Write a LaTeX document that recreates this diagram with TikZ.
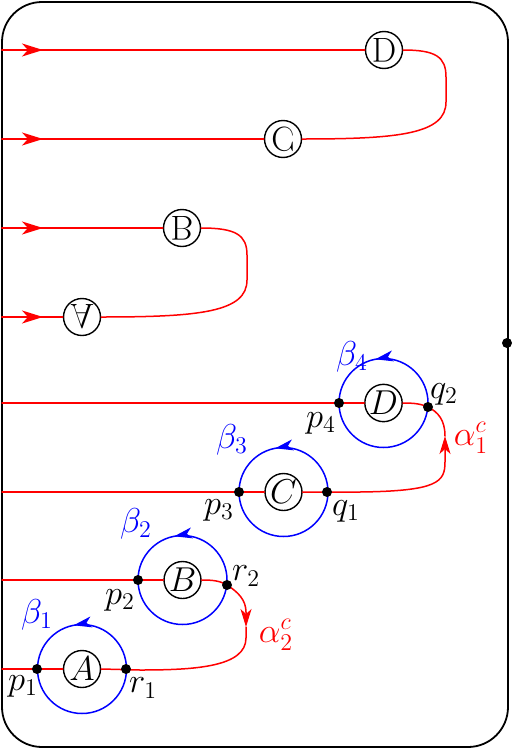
\documentclass[tikz,border=0pt]{standalone}
\usetikzlibrary{arrows.meta,decorations.markings}
\begin{document}
\begin{tikzpicture}[x=0.5pt,y=-0.5pt,line join=round,line cap=round,font=\LARGE,
	>={Stealth[length=9pt,width=5.5pt,inset=2.5pt]},
	letter/.style={circle,draw,fill=white,inner sep=0pt,minimum size=18.5pt,line width=0.7pt},
	redline/.style={red,line width=0.75pt},
	betaloop/.style={blue,line width=0.75pt,postaction={decorate},
		decoration={markings,mark=at position 0.72 with {\arrowreversed{>}}}}]
	\useasboundingbox (0,0) rectangle (511,750);
	\draw[line width=0.9pt,rounded corners=20pt] (2,2) rectangle (508,747);
	\foreach \y/\n in {50/1,139/2,228/3,317/4,403/5,492/6,580/7,669/8}
	\coordinate (l\n) at (2,\y);
	% upper half: the letters seen from behind
	\node[letter] (tD) at (384,50) {\scalebox{1}[-1]{D}};
	\node[letter] (tC) at (283,139) {\scalebox{1}[-1]{C}};
	\node[letter] (tB) at (182,228) {\scalebox{1}[-1]{B}};
	\node[letter] (tA) at (82,317) {\scalebox{1}[-1]{A}};
	\foreach \n/\t in {1/tD,2/tC,3/tB,4/tA}{
		\draw[redline] (l\n) -- (\t);
		\draw[redline,-{Stealth[length=10.5pt,width=6.5pt,inset=3pt]}] (l\n) -- ++(41,0);
	}
	\draw[redline] (tD.east) .. controls (436,50) and (446,57) .. (446,77) -- (446,102)
		.. controls (446,134) and (399,139) .. (tC.east);
	\draw[redline] (tB.east) .. controls (236,228) and (247,235) .. (247,255) -- (247,280)
		.. controls (247,312) and (200,317) .. (tA.east);
	% lower half
	\node[letter] (A) at (82,669) {$A$};
	\node[letter] (B) at (182.5,580) {$B$};
	\node[letter] (C) at (283.5,492) {$C$};
	\node[letter] (D) at (383.5,403) {$D$};
	\coordinate (p1) at (37,669);   \coordinate (r1) at (126,669);
	\coordinate (p2) at (138,580);  \coordinate (r2) at (227,585);
	\coordinate (p3) at (239,492);  \coordinate (q1) at (327,492);
	\coordinate (p4) at (339,403);  \coordinate (q2) at (428,407);
	\coordinate (e) at (507,343);
	\draw[redline] (l5) -- (D);
	\draw[redline] (l6) -- (C);
	\draw[redline] (l7) -- (B);
	\draw[redline] (l8) -- (A);
	\draw[redline] (D.east) .. controls (415,403) and (421,404) .. (q2);
	\draw[redline,->] (C.east) -- (360,492) .. controls (438,491) and (445,482) .. (445,462)
		-- (445,436) coordinate (a1);
	\draw[redline] (a1) .. controls (445,420) and (438,412) .. (q2);
	\draw[redline] (B.east) .. controls (214,580) and (220,581) .. (r2);
	\draw[redline,->] (r2) .. controls (238,592) and (246,600) .. (246,612) -- (246,627) coordinate (a2);
	\draw[redline] (a2) -- (246,638) .. controls (246,667) and (195,670) .. (140,670) -- (A.east);
	\foreach \n in {A,B,C,D}
	\draw[betaloop] (\n) circle[radius=44.5];
	\foreach \p in {p1,r1,p2,r2,p3,q1,p4,q2,e}
	\fill (\p) circle[radius=2.5pt];
	% labels
	\node[blue] (b1) at (37,615) {$\beta_1$};
	\node[blue] (b2) at (136,524) {$\beta_2$};
	\node[blue] (b3) at (232,440) {$\beta_3$};
	\node[blue] (b4) at (352,357) {$\beta_4$};
	\node (lp1) at (23,686) {$p_1$};
	\node (lr1) at (143,688) {$r_1$};
	\node (lp2) at (120,600) {$p_2$};
	\node (lr2) at (246,576) {$r_2$};
	\node (lp3) at (219,510) {$p_3$};
	\node (lq1) at (346,511) {$q_1$};
	\node (lp4) at (321,423) {$p_4$};
	\node (lq2) at (444,394) {$q_2$};
	\node[red] (al1) at (471,438) {$\alpha_1^c$};
	\node[red] (al2) at (276,635) {$\alpha_2^c$};
\end{tikzpicture}
\end{document}
